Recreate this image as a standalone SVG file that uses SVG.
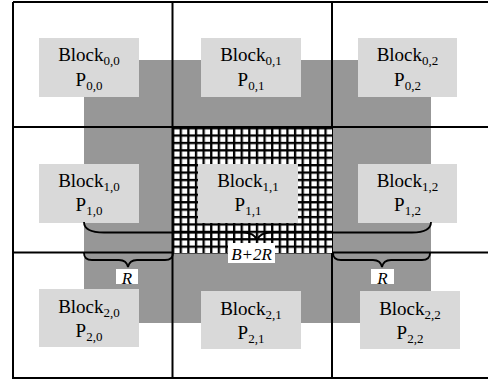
<svg xmlns="http://www.w3.org/2000/svg" width="488" height="379" viewBox="0 0 488 379">
<style>
.blk{fill:#d9d9d9;stroke:none}
.t{font-family:"Liberation Serif","Times New Roman",serif;font-size:19px;fill:#000;text-anchor:middle}
.sub{font-size:13px}
.grid{stroke:#000;stroke-width:2;fill:none}
.brace{stroke:#000;stroke-width:1.8;fill:none}
.lbl{fill:#fff;stroke:none}
.it{font-family:"Liberation Serif","Times New Roman",serif;font-size:17px;font-style:italic;fill:#000;text-anchor:middle}
</style>
<defs>
<pattern id="hatch" patternUnits="userSpaceOnUse" x="172" y="127" width="7.62" height="7.41">
<rect width="7.62" height="7.41" fill="#fff"/>
<rect x="0" y="0" width="2.3" height="7.41" fill="#000"/>
<rect x="0" y="0" width="7.62" height="2.3" fill="#000"/>
</pattern>
</defs>
<rect width="488" height="379" fill="#fff"/>
<g id="halo">
<rect x="84" y="60" width="347" height="263" fill="#979797"/>
</g>
<g id="gridlines">
<path class="grid" d="M13,2H488 M13,127H488 M13,252.5H488 M13,378H488 M13,2V379 M172.5,2V378 M332,2V378"/>
</g>
<g id="hatched">
<rect x="172" y="127" width="160" height="126" fill="url(#hatch)"/>
</g>
<g id="block00"><rect class="blk" x="39" y="38" width="100" height="59"/><text class="t" x="89" y="61">Block<tspan class="sub" dy="4">0,0</tspan></text><text class="t" x="89" y="86">P<tspan class="sub" dy="4">0,0</tspan></text></g>
<g id="block01"><rect class="blk" x="201" y="38" width="100" height="59"/><text class="t" x="251" y="61">Block<tspan class="sub" dy="4">0,1</tspan></text><text class="t" x="251" y="86">P<tspan class="sub" dy="4">0,1</tspan></text></g>
<g id="block02"><rect class="blk" x="358" y="38" width="99" height="59"/><text class="t" x="407.5" y="61">Block<tspan class="sub" dy="4">0,2</tspan></text><text class="t" x="407.5" y="86">P<tspan class="sub" dy="4">0,2</tspan></text></g>
<g id="block10"><rect class="blk" x="39" y="164" width="100" height="59"/><text class="t" x="89" y="187">Block<tspan class="sub" dy="4">1,0</tspan></text><text class="t" x="89" y="211">P<tspan class="sub" dy="4">1,0</tspan></text></g>
<g id="block11"><rect class="blk" x="198" y="164" width="100" height="59"/><text class="t" x="248" y="187">Block<tspan class="sub" dy="4">1,1</tspan></text><text class="t" x="248" y="211">P<tspan class="sub" dy="4">1,1</tspan></text></g>
<g id="block12"><rect class="blk" x="358" y="164" width="99" height="59"/><text class="t" x="407.5" y="187">Block<tspan class="sub" dy="4">1,2</tspan></text><text class="t" x="407.5" y="211">P<tspan class="sub" dy="4">1,2</tspan></text></g>
<g id="block20"><rect class="blk" x="39" y="289" width="100" height="58"/><text class="t" x="89" y="313">Block<tspan class="sub" dy="4">2,0</tspan></text><text class="t" x="89" y="337">P<tspan class="sub" dy="4">2,0</tspan></text></g>
<g id="block21"><rect class="blk" x="201" y="291" width="100" height="58"/><text class="t" x="251" y="315">Block<tspan class="sub" dy="4">2,1</tspan></text><text class="t" x="251" y="339">P<tspan class="sub" dy="4">2,1</tspan></text></g>
<g id="block22"><rect class="blk" x="360" y="291" width="100" height="58"/><text class="t" x="410" y="315">Block<tspan class="sub" dy="4">2,2</tspan></text><text class="t" x="410" y="339">P<tspan class="sub" dy="4">2,2</tspan></text></g>
<g id="connectors">
<path class="brace" d="M84,222 C84,229 90,232.5 104,232.5 L243,232.5 C250,232.5 255,235 257,240 C259,235 264,232.5 271,232.5 L412,232.5 C425,232.5 431,229 431,222"/>
<path class="brace" d="M84,253 C84,258 87,260 92,260 L119,260 C124,260 127,262 128,267 C129,262 132,260 137,260 L165,260 C170,260 173,258 173,253"/>
<path class="brace" d="M333,253 C333,258 336,260 341,260 L373,260 C378,260 381,262 382,267 C383,262 386,260 391,260 L422,260 C427,260 430,258 430,253"/>
</g>
<g id="label-b2r"><rect class="lbl" x="228" y="243" width="47" height="20"/><text class="it" x="251.5" y="260">B+2R</text></g>
<g id="label-r1"><rect class="lbl" x="116" y="269" width="22" height="15"/><text class="it" x="127" y="283.5">R</text></g>
<g id="label-r2"><rect class="lbl" x="371" y="269" width="23" height="15"/><text class="it" x="382.5" y="283.5">R</text></g>
</svg>
